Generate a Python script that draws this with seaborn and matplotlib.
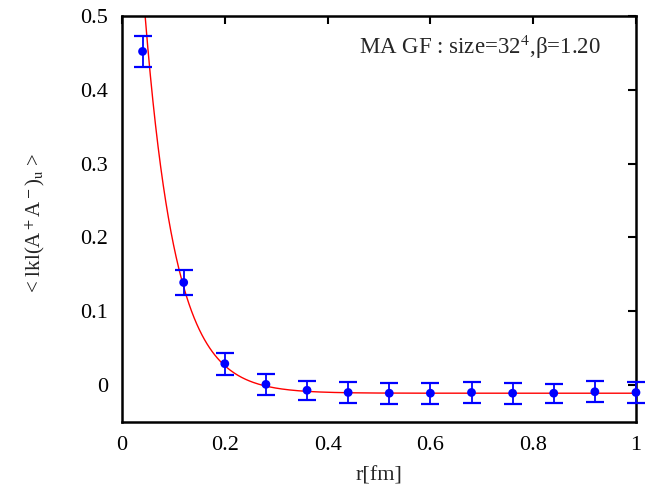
import numpy as np
import pandas as pd
import matplotlib
matplotlib.use("Agg")
import matplotlib.pyplot as plt
import seaborn as sns

# data
r_fm = [0.04, 0.12, 0.20, 0.28, 0.36, 0.44, 0.52, 0.60, 0.68, 0.76, 0.84, 0.92, 1.00]
corr = [0.452, 0.139, 0.029, 0.001, -0.007, -0.010, -0.011, -0.011, -0.010, -0.011, -0.011, -0.009, -0.010]
corr_err = [0.021, 0.017, 0.015, 0.014, 0.013, 0.014, 0.014, 0.014, 0.014, 0.014, 0.013, 0.014, 0.014]

# exponential fit  a*exp(-r/b) + c  (estimated parameters)
fit_a = 1.093
fit_b = 0.0592
fit_c = -0.011

sns.set_style("white")
plt.rcParams['font.family'] = ['Liberation Serif', 'DejaVu Serif']
plt.rcParams['mathtext.fontset'] = 'stix'

df = pd.DataFrame({'r': r_fm, 'val': corr, 'err': corr_err})

fig = plt.figure(figsize=(6.57, 5.0), dpi=100)
ax = fig.add_axes([0.1857, 0.156, 0.7823, 0.812])

r_line = np.linspace(0.0, 1.0, 400)
fit_df = pd.DataFrame({'r': r_line, 'val': fit_a * np.exp(-r_line / fit_b) + fit_c})
sns.lineplot(data=fit_df, x='r', y='val', ax=ax, color='red', linewidth=1.0)

eb = ax.errorbar(df['r'], df['val'], yerr=df['err'], fmt='none', ecolor='#0000ff',
                 elinewidth=1.3, capsize=6.4, capthick=1.6, zorder=3)
for art in eb.lines[1] + tuple(eb.lines[2]):
    art.set_clip_on(False)
sns.scatterplot(data=df, x='r', y='val', ax=ax, color='#0000ff', s=40,
                edgecolor='none', zorder=4)
for coll in ax.collections:
    coll.set_clip_on(False)

ax.set_xlim(0, 1)
ax.set_ylim(-0.05, 0.5)
ax.set_xticks([0, 0.2, 0.4, 0.6, 0.8, 1.0])
ax.set_xticklabels(['0', '0.2', '0.4', '0.6', '0.8', '1'])
ax.set_yticks([0, 0.1, 0.2, 0.3, 0.4, 0.5])
ax.set_yticklabels(['0', '0.1', '0.2', '0.3', '0.4', '0.5'])
ax.tick_params(direction='in', length=6, width=1.5, top=True, right=True,
               labelsize=16, pad=10, colors='black')
for s in ax.spines.values():
    s.set_linewidth(1.8)
    s.set_color('black')
    s.set_zorder(2)

ax.set_xlabel('r[fm]', fontsize=16, labelpad=8)
ax.set_ylabel(r'< lkl(A$^+$A$^-$)$_\mathrm{u}$ >', fontsize=15)
ax.yaxis.set_label_coords(-0.146, 0.49)

ax.text(0.932, 0.924, r'MA GF : size=32$^4$,β=1.20', transform=ax.transAxes,
        ha='right', va='center', fontsize=16.5)

plt.savefig('out.png', dpi=100)
plt.close()
